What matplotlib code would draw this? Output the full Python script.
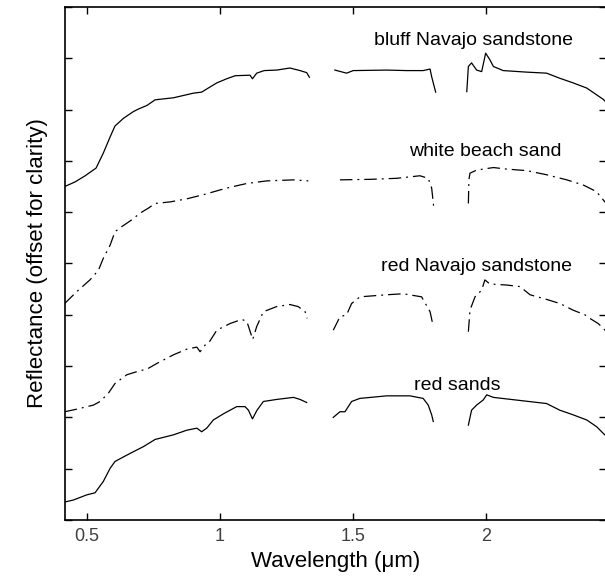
import matplotlib
matplotlib.use("Agg")
import matplotlib.pyplot as plt
import numpy as np

nan = np.nan

# bluff Navajo sandstone (solid), gaps = water bands
bluff_wl = [0.417, 0.456, 0.494, 0.535, 0.562, 0.588, 0.606, 0.638, 0.675, 0.694, 0.726, 0.757,
            0.826, 0.901, 0.932, 0.957, 0.989, 1.026, 1.058, 1.114, 1.123, 1.139, 1.167, 1.214,
            1.264, 1.302, 1.327, 1.337, nan,
            1.433, 1.477, 1.502, 1.628, 1.703, 1.765, 1.791, 1.797, 1.812, nan,
            1.929, 1.935, 1.947, 1.966, 1.985, 2.000, 2.016, 2.029, 2.066, 2.154, 2.229, 2.279,
            2.329, 2.380, 2.442, 2.452]
bluff_r = [0.650, 0.659, 0.671, 0.686, 0.715, 0.747, 0.768, 0.783, 0.796, 0.801, 0.808, 0.819,
           0.823, 0.832, 0.834, 0.842, 0.852, 0.860, 0.866, 0.867, 0.860, 0.871, 0.876, 0.877,
           0.881, 0.876, 0.872, 0.863, nan,
           0.877, 0.871, 0.876, 0.877, 0.876, 0.876, 0.879, 0.864, 0.834, nan,
           0.835, 0.884, 0.891, 0.877, 0.874, 0.910, 0.897, 0.884, 0.876, 0.873, 0.871, 0.861,
           0.852, 0.842, 0.820, 0.815]

# white beach sand (dash-dot)
white_wl = [0.417, 0.462, 0.512, 0.544, 0.562, 0.588, 0.606, 0.632, 0.669, 0.700, 0.732, 0.757,
            0.813, 0.876, 0.938, 1.026, 1.102, 1.177, 1.277, 1.333, nan,
            1.452, 1.565, 1.665, 1.753, 1.784, 1.797, 1.806, nan,
            1.935, 1.937, 1.941, 1.966, 2.029, 2.079, 2.154, 2.229, 2.305, 2.367, 2.417, 2.442,
            2.452]
white_r = [0.422, 0.445, 0.468, 0.487, 0.510, 0.536, 0.562, 0.572, 0.585, 0.598, 0.608, 0.617,
           0.620, 0.626, 0.634, 0.647, 0.656, 0.661, 0.663, 0.661, nan,
           0.663, 0.664, 0.666, 0.671, 0.666, 0.647, 0.604, nan,
           0.617, 0.663, 0.676, 0.682, 0.687, 0.684, 0.681, 0.673, 0.663, 0.653, 0.640, 0.624,
           0.618]

# red Navajo sandstone (dash-dot)
rednav_wl = [0.417, 0.462, 0.525, 0.550, 0.581, 0.606, 0.650, 0.700, 0.726, 0.763, 0.826, 0.876,
             0.914, 0.926, 0.945, 0.957, 0.989, 1.039, 1.083, 1.102, 1.124, 1.139, 1.164, 1.214,
             1.264, 1.295, 1.321, 1.329, nan,
             1.427, 1.452, 1.477, 1.496, 1.527, 1.628, 1.690, 1.759, 1.791, 1.803, nan,
             1.935, 1.941, 1.960, 1.985, 1.997, 2.016, 2.079, 2.129, 2.167, 2.229, 2.279, 2.329,
             2.373, 2.392, 2.423, 2.442, 2.452]
rednav_r = [0.211, 0.216, 0.224, 0.231, 0.247, 0.266, 0.283, 0.291, 0.294, 0.305, 0.322, 0.333,
            0.337, 0.328, 0.341, 0.344, 0.370, 0.383, 0.391, 0.387, 0.352, 0.377, 0.406, 0.416,
            0.420, 0.416, 0.406, 0.393, nan,
            0.370, 0.396, 0.400, 0.422, 0.435, 0.439, 0.441, 0.435, 0.406, 0.377, nan,
            0.367, 0.409, 0.435, 0.448, 0.468, 0.460, 0.458, 0.455, 0.439, 0.430, 0.422, 0.409,
            0.400, 0.393, 0.383, 0.374, 0.368]

# red sands (solid)
redsand_wl = [0.417, 0.450, 0.500, 0.531, 0.562, 0.588, 0.606, 0.638, 0.675, 0.713, 0.757, 0.826,
              0.876, 0.914, 0.932, 0.951, 0.976, 1.014, 1.064, 1.095, 1.108, 1.123, 1.139, 1.164,
              1.214, 1.277, 1.302, 1.327, nan,
              1.427, 1.452, 1.471, 1.496, 1.527, 1.628, 1.715, 1.765, 1.784, 1.797, 1.803, nan,
              1.935, 1.947, 1.966, 1.991, 2.004, 2.029, 2.129, 2.229, 2.279, 2.329, 2.380, 2.417,
              2.442, 2.452]
redsand_r = [0.035, 0.039, 0.049, 0.053, 0.075, 0.101, 0.114, 0.123, 0.133, 0.143, 0.157, 0.166,
             0.175, 0.179, 0.172, 0.179, 0.195, 0.207, 0.221, 0.221, 0.214, 0.197, 0.213, 0.231,
             0.235, 0.239, 0.235, 0.229, nan,
             0.200, 0.211, 0.211, 0.231, 0.237, 0.242, 0.242, 0.237, 0.224, 0.205, 0.192, nan,
             0.185, 0.214, 0.224, 0.234, 0.244, 0.239, 0.233, 0.227, 0.214, 0.205, 0.195, 0.182,
             0.169, 0.164]

labels = ["bluff Navajo sandstone", "white beach sand", "red Navajo sandstone", "red sands"]
label_x = [1.954, 1.999, 1.967, 1.894]
label_y = [0.926, 0.709, 0.486, 0.253]

plt.rcParams['font.family'] = ['Liberation Sans', 'DejaVu Sans']

fig = plt.figure(figsize=(6.05, 5.81), dpi=100)
ax = fig.add_axes([0.1074, 0.105, 0.894, 0.883])

dashdot = (0, (10, 4, 1.5, 4))
ax.plot(bluff_wl, bluff_r, color='k', lw=0.9)
ax.plot(white_wl, white_r, color='k', lw=0.9, linestyle=dashdot)
ax.plot(rednav_wl, rednav_r, color='k', lw=0.9, linestyle=dashdot)
ax.plot(redsand_wl, redsand_r, color='k', lw=0.9)

for t, x, y in zip(labels, label_x, label_y):
    ax.text(x, y, t, ha='center', va='baseline', fontsize=14)

ax.set_xlim(0.418, 2.452)
ax.set_ylim(0, 1)
ax.set_xticks([0.5, 1, 1.5, 2])
ax.set_xticklabels(['0.5', '1', '1.5', '2'])
ax.set_yticks(np.arange(0, 1.01, 0.1))
ax.set_yticklabels([])
ax.tick_params(direction='in', top=True, right=True, length=5, width=1,
               labelsize=13, labelcolor='#404040', pad=6)
for s in ax.spines.values():
    s.set_linewidth(1.2)

ax.set_xlabel('Wavelength (\u03bcm)', fontsize=16, labelpad=4)
ax.set_ylabel('Reflectance (offset for clarity)', fontsize=16, labelpad=6)

fig.savefig('out.png', dpi=100)
